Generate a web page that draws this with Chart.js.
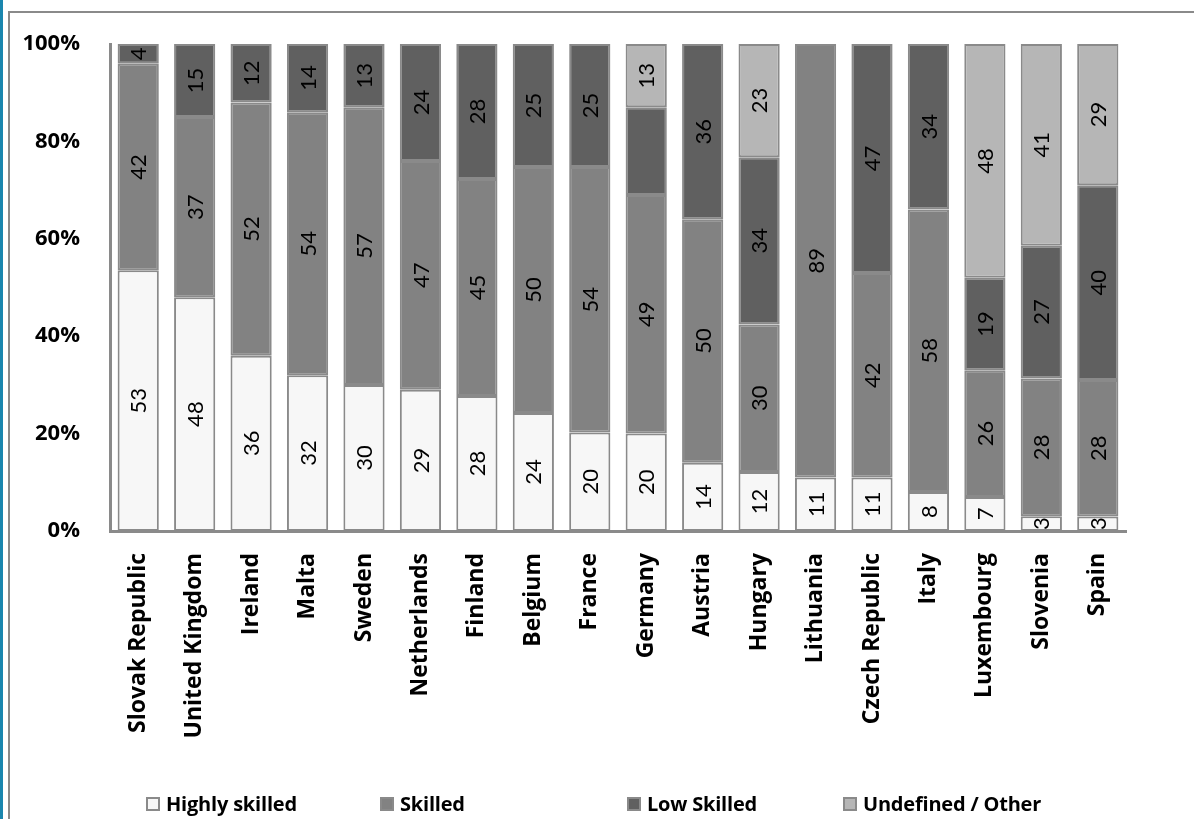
<!DOCTYPE html>
<html>
<head>
<meta charset="utf-8">
<script src="https://cdn.jsdelivr.net/npm/chart.js@4.4.1/dist/chart.umd.min.js"></script>
<style>
  body { margin: 0; background: #fff; }
  #wrap { position: relative; width: 1194px; height: 819px; overflow: hidden; background: #fff; }
  #blue { position: absolute; left: 0; top: 0; width: 3px; height: 819px; background: #1a86ae; }
  #frame { position: absolute; left: 8px; top: 11px; width: 1190px; height: 820px;
           border-left: 2px solid #8a8a8a; border-top: 2px solid #8a8a8a; }
  #chart { position: absolute; left: 0; top: 0; }
  .leg { position: absolute; top: 790px; font: bold 20px "Open Sans", sans-serif; color: #000;
         white-space: nowrap; letter-spacing: -0.2px; }
  .leg i { display: inline-block; width: 10px; height: 10px; border: 2px solid #8a8a8a;
           margin-right: 6px; vertical-align: 0px; }
</style>
</head>
<body>
<div id="wrap">
  <div id="blue"></div>
  <div id="frame"></div>
  <canvas id="chart" width="1194" height="819"></canvas>
  <div id="legend"></div>
</div>
<script>
let countries = ['Slovak Republic', 'United Kingdom', 'Ireland', 'Malta', 'Sweden', 'Netherlands',
  'Finland', 'Belgium', 'France', 'Germany', 'Austria', 'Hungary', 'Lithuania', 'Czech Republic',
  'Italy', 'Luxembourg', 'Slovenia', 'Spain'];

let highlySkilled = [53, 48, 36, 32, 30, 29, 28, 24, 20, 20, 14, 12, 11, 11, 8, 7, 3, 3];
let skilled       = [42, 37, 52, 54, 57, 47, 45, 50, 54, 49, 50, 30, 89, 42, 58, 26, 28, 28];
let lowSkilled    = [4, 15, 12, 14, 13, 24, 28, 25, 25, 18, 36, 34, 0, 47, 34, 19, 27, 40];
let undefinedOther = [0, 0, 0, 0, 0, 0, 0, 0, 0, 13, 0, 23, 0, 0, 0, 48, 41, 29];

// Germany's low skilled segment carries no label in the original
let unlabeled = [['Low Skilled', 'Germany']];

let yTicks = [0, 20, 40, 60, 80, 100];

const seriesNames = ['Highly skilled', 'Skilled', 'Low Skilled', 'Undefined / Other'];
const seriesValues = [highlySkilled, skilled, lowSkilled, undefinedOther];
const seriesColors = ['#f7f7f7', '#828282', '#606060', '#b6b6b6'];

// 100% stacked: each bar is scaled to its own total
let totals = countries.map((c, i) => seriesValues.reduce((s, arr) => s + arr[i], 0));

function toPercent(arr) {
  return arr.map((v, i) => v / totals[i] * 100);
}

let datasets = [];
for (let k = 0; k < seriesNames.length; k++) {
  datasets.push({
    label: seriesNames[k],
    data: toPercent(seriesValues[k]),
    raw: seriesValues[k],
    backgroundColor: seriesColors[k],
    borderColor: '#8a8a8a',
    borderWidth: 2,
    borderSkipped: false,
    categoryPercentage: 1,
    barPercentage: 0.73
  });
}

const valueLabels = {
  id: 'valueLabels',
  afterDatasetsDraw(chart) {
    const ctx = chart.ctx;
    ctx.save();
    ctx.font = '22px Lato';
    ctx.fillStyle = '#000';
    ctx.textAlign = 'center';
    ctx.textBaseline = 'middle';
    chart.data.datasets.forEach((ds, i) => {
      const meta = chart.getDatasetMeta(i);
      meta.data.forEach((bar, j) => {
        const v = ds.raw[j];
        if (!v) return;
        if (unlabeled.some(u => u[0] === ds.label && u[1] === countries[j])) return;
        const p = bar.getProps(['x', 'y', 'base'], true);
        ctx.save();
        ctx.translate(p.x, (p.y + p.base) / 2);
        ctx.rotate(-Math.PI / 2);
        ctx.fillText(String(v), 0, 1);
        ctx.restore();
      });
    });
    ctx.restore();
  }
};

Chart.defaults.font.family = '"Open Sans"';
Chart.defaults.color = '#000';

new Chart(document.getElementById('chart'), {
  type: 'bar',
  data: { labels: countries, datasets: datasets },
  plugins: [valueLabels],
  options: {
    responsive: false,
    animation: false,
    layout: { padding: { left: 10, top: 44, right: 68, bottom: 0 } },
    plugins: { legend: { display: false }, tooltip: { enabled: false } },
    scales: {
      x: {
        stacked: true,
        grid: { display: false },
        border: { display: true, color: '#8a8a8a', width: 3 },
        ticks: { font: { size: 23, weight: 'bold' }, minRotation: 90, maxRotation: 90, padding: 14, autoSkip: false },
        afterFit(s) { s.height = 288; }
      },
      y: {
        stacked: true,
        min: 0,
        max: 100,
        afterBuildTicks(s) { s.ticks = yTicks.map(v => ({ value: v })); },
        grid: { display: false },
        border: { display: true, color: '#8a8a8a', width: 3 },
        ticks: { font: { size: 22, weight: 'bold' }, padding: 22, callback: v => v + '%' },
        afterFit(s) { s.width = 100; }
      }
    }
  }
});

// legend, spread out like the original
const legendLeft = [146, 380, 627, 843];
const legend = document.getElementById('legend');
seriesNames.forEach((name, k) => {
  const el = document.createElement('div');
  el.className = 'leg';
  el.style.left = legendLeft[k] + 'px';
  el.innerHTML = '<i style="background:' + seriesColors[k] + '"></i>' + name;
  legend.appendChild(el);
});
</script>
</body>
</html>
